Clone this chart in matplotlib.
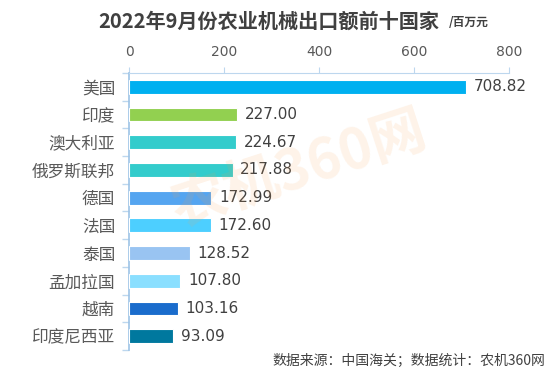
import numpy as np
import matplotlib.pyplot as plt

plt.rcParams['font.family'] = ['Noto Sans CJK SC', 'DejaVu Sans']

countries = ['美国', '印度', '澳大利亚', '俄罗斯联邦', '德国', '法国', '泰国', '孟加拉国', '越南', '印度尼西亚']
values = [708.82, 227.00, 224.67, 217.88, 172.99, 172.60, 128.52, 107.80, 103.16, 93.09]
colors = ['#00B0F0', '#92D050', '#33CCCC', '#33CCCC', '#55A5F0',
          '#4DCFFF', '#99C4F2', '#8ADFFF', '#1A6CCC', '#00789E']
xticks = [0, 200, 400, 600, 800]

fig = plt.figure(figsize=(5.54, 3.78), dpi=100)
ax = fig.add_axes([0.233, 0.074, 0.686, 0.733])

y = np.arange(len(countries))
ax.barh(y, values, height=0.5, color=colors, edgecolor='white', linewidth=0.8, zorder=3)
for yi, v in zip(y, values):
    ax.text(v + 16, yi, f'{v:.2f}', va='center', ha='left', fontsize=11,
            color='#404040', family='DejaVu Sans')

ax.set_ylim(len(countries) - 0.5, -0.5)
ax.set_xlim(0, 800)
ax.xaxis.tick_top()
ax.set_xticks(xticks)
ax.set_xticklabels([str(t) for t in xticks], fontsize=10, color='#595959', family='DejaVu Sans')
ax.tick_params(axis='x', length=4, color='#BDD7EE', pad=6)

ax.set_yticks(y)
ax.set_yticklabels(countries, fontsize=12, color='#595959')
ax.set_yticks(np.arange(len(countries) + 1) - 0.5, minor=True)
ax.tick_params(axis='y', which='major', length=0, pad=10)
ax.tick_params(axis='y', which='minor', length=5, color='#BDD7EE', width=1)

for s in ['right', 'bottom']:
    ax.spines[s].set_visible(False)
ax.spines['left'].set_color('#9DC3E6')
ax.spines['top'].set_color('#BDD7EE')
ax.spines['left'].set_linewidth(1.2)

fig.text(0.177, 0.945, '2022年9月份农业机械出口额前十国家', ha='left', va='center',
         fontsize=14.5, fontweight='bold', color='#404040')
fig.text(0.810, 0.940, '/百万元', ha='left', va='center', fontsize=8.5,
         fontweight='bold', color='#404040')

fig.text(0.54, 0.55, '农机360网', ha='center', va='center', fontsize=40,
         fontweight='bold', color='#F8A050', alpha=0.13, rotation=18, zorder=0)

fig.text(0.985, 0.045, '数据来源：中国海关；数据统计：农机360网', ha='right', va='center',
         fontsize=10, color='#404040')

fig.savefig('out.png', dpi=100)
